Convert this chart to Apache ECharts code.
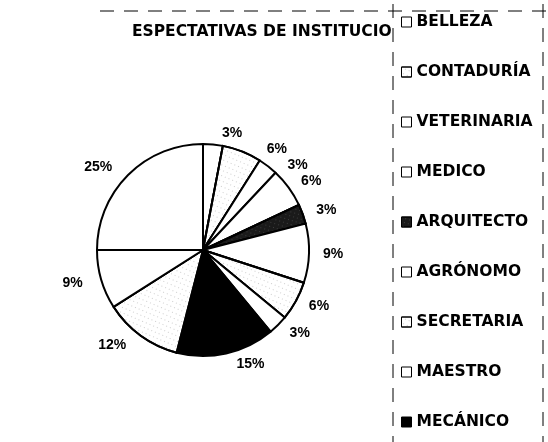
<!DOCTYPE html>
<html>
<head>
<meta charset="utf-8">
<script src="https://cdn.jsdelivr.net/npm/echarts@6/dist/echarts.min.js"></script>
<style>
    html, body { margin: 0; padding: 0; background: #fff; }
    #main { width: 548px; height: 442px; }
</style>
</head>
<body>
<div id="main"></div>
<script type="text/javascript">
    // datos (porcentajes)
    var carreras = ['BELLEZA', 'CONTADURÍA', 'VETERINARIA', 'MEDICO', 'ARQUITECTO',
        'AGRÓNOMO', 'SECRETARIA', 'MAESTRO', 'MECÁNICO', 'ÍTEM 10', 'ÍTEM 11', 'ÍTEM 12'];
    var porcentajes = [3, 6, 3, 6, 3, 9, 6, 3, 15, 12, 9, 25];
    // la leyenda del original esta cortada: solo se ven las 9 primeras
    var leyendaVisible = carreras.slice(0, 9);

    // relleno de cada porcion: blanco, punteado, oscuro o negro
    var rellenos = ['blanco', 'punteado', 'blanco', 'blanco', 'oscuro',
        'blanco', 'punteado', 'blanco', 'negro', 'punteado', 'blanco', 'blanco'];

    function estilo(tipo) {
        if (tipo === 'punteado') {
            return {
                color: '#fff',
                decal: {
                    symbol: 'rect', symbolSize: 0.7, color: 'rgba(0,0,0,0.55)',
                    dashArrayX: [1, 3], dashArrayY: [1, 4], rotation: 0.4
                }
            };
        }
        if (tipo === 'oscuro') {
            return {
                color: '#1a1a1a',
                decal: {
                    symbol: 'rect', symbolSize: 0.6, color: 'rgba(255,255,255,0.5)',
                    dashArrayX: [1, 3], dashArrayY: [1, 3], rotation: 0.3
                }
            };
        }
        if (tipo === 'negro') return { color: '#000' };
        return { color: '#fff' };
    }

    var datos = [];
    for (var i = 0; i < carreras.length; i++) {
        datos.push({ name: carreras[i], value: porcentajes[i], itemStyle: estilo(rellenos[i]) });
    }

    var myChart = echarts.init(document.getElementById('main'));

    var borde = { stroke: '#000', lineWidth: 1, lineDash: [14, 10] };

    var option = {
        animation: false,
        backgroundColor: '#fff',
        title: {
            text: 'ESPECTATIVAS DE INSTITUCIONES',
            left: 132,
            top: 24,
            padding: 0,
            z: 2,
            textStyle: {
                fontFamily: 'DejaVu Sans',
                fontWeight: 'bold',
                fontSize: 15.5,
                color: '#000'
            }
        },
        legend: {
            data: leyendaVisible,
            orient: 'vertical',
            left: 393,
            top: 4,
            padding: [10, 2, 0, 8],
            itemWidth: 10,
            itemHeight: 10,
            itemGap: 34,
            icon: 'rect',
            backgroundColor: '#fff',
            z: 10,
            selectedMode: false,
            itemStyle: { borderColor: '#000', borderWidth: 1 },
            textStyle: {
                fontFamily: 'DejaVu Sans',
                fontWeight: 'bold',
                fontSize: 15.5,
                color: '#000'
            }
        },
        graphic: [{
            type: 'line',
            shape: { x1: 100, y1: 11, x2: 548, y2: 11 },
            style: borde,
            z: 20
        }, {
            type: 'line',
            shape: { x1: 393, y1: 4, x2: 393, y2: 442 },
            style: borde,
            z: 20
        }, {
            type: 'line',
            shape: { x1: 543, y1: 4, x2: 543, y2: 442 },
            style: borde,
            z: 20
        }],
        series: [{
            name: 'Espectativas',
            type: 'pie',
            center: [203, 250],
            radius: 106,
            startAngle: 90,
            clockwise: true,
            avoidLabelOverlap: true,
            itemStyle: { borderColor: '#000', borderWidth: 2 },
            label: {
                show: true,
                position: 'outside',
                formatter: '{c}%',
                fontFamily: 'Liberation Sans',
                fontWeight: 'bold',
                fontSize: 14,
                color: '#000'
            },
            labelLine: { show: false, length: 11, length2: 3 },
            emphasis: { disabled: true },
            data: datos
        }]
    };

    myChart.setOption(option);
</script>
</body>
</html>
